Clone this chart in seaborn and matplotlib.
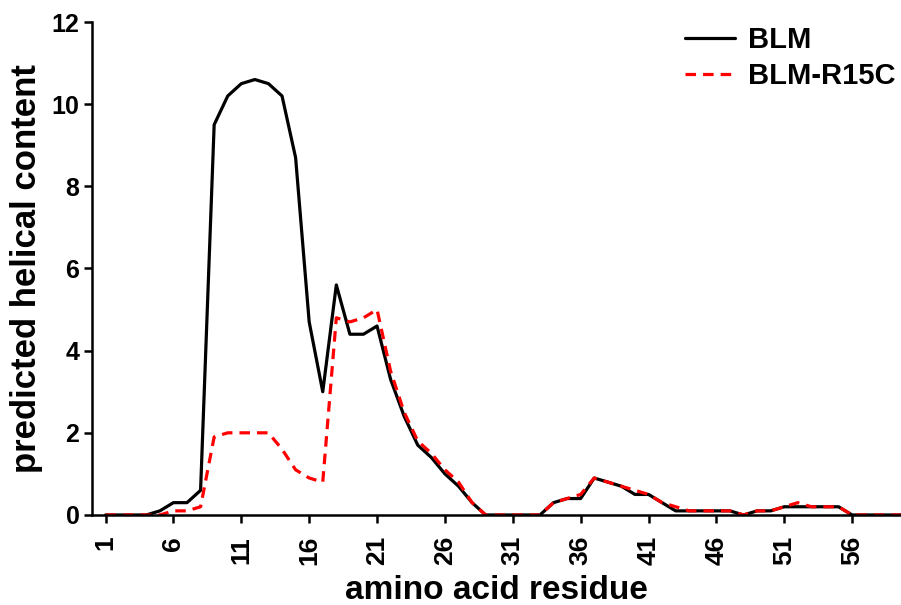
import numpy as np
import pandas as pd
import matplotlib
matplotlib.use("Agg")
import matplotlib.pyplot as plt
import seaborn as sns

# residue positions 1..60
residues = list(range(1, 61))

blm = [0, 0, 0, 0, 0.1, 0.3, 0.3, 0.6, 9.5, 10.2,
       10.5, 10.6, 10.5, 10.2, 8.7, 4.7, 3.0, 5.6, 4.4, 4.4,
       4.6, 3.3, 2.4, 1.7, 1.4, 1.0, 0.7, 0.3, 0, 0,
       0, 0, 0, 0.3, 0.4, 0.4, 0.9, 0.8, 0.7, 0.5,
       0.5, 0.3, 0.1, 0.1, 0.1, 0.1, 0.1, 0, 0.1, 0.1,
       0.2, 0.2, 0.2, 0.2, 0.2, 0, 0, 0, 0, 0]

blm_r15c = [0, 0, 0, 0, 0, 0.1, 0.1, 0.2, 1.9, 2.0,
            2.0, 2.0, 2.0, 1.6, 1.1, 0.9, 0.8, 4.8, 4.7, 4.8,
            5.0, 3.5, 2.5, 1.8, 1.5, 1.1, 0.8, 0.3, 0, 0,
            0, 0, 0, 0.3, 0.4, 0.5, 0.9, 0.8, 0.7, 0.6,
            0.5, 0.3, 0.2, 0.1, 0.1, 0.1, 0.1, 0, 0.1, 0.1,
            0.2, 0.3, 0.2, 0.2, 0.2, 0, 0, 0, 0, 0]

xticks = list(range(1, 57, 5))
yticks = [0, 2, 4, 6, 8, 10, 12]

sns.set_style("ticks")
plt.rcParams['font.family'] = ['Liberation Sans', 'DejaVu Sans']
plt.rcParams['font.weight'] = 'bold'
plt.rcParams['text.color'] = 'black'
plt.rcParams['axes.labelcolor'] = 'black'

fig = plt.figure(figsize=(9.01, 6.05), dpi=100)
ax = fig.add_axes([0.1021, 0.1488, 0.8979, 0.8148])

sns.lineplot(x=residues, y=blm, color='black', linewidth=2.3,
             label='BLM', ax=ax)
sns.lineplot(x=residues, y=blm_r15c, color='#ff0000', linewidth=2.3,
             linestyle=(0, (3.3, 2.2)), label='BLM-R15C', ax=ax)

ax.set_xlim(0, 59.6)
ax.set_ylim(0, 12)
ax.set_xticks(xticks)
ax.set_yticks(yticks)
ax.set_xticklabels([str(t) for t in xticks], rotation=90, fontsize=19,
                   fontweight='bold')
ax.set_yticklabels([str(t) for t in yticks], fontsize=18, fontweight='bold')
ax.tick_params(direction='out', length=6, width=1.8, colors='black')
ax.tick_params(axis='x', pad=9)
ax.tick_params(axis='y', pad=3)

for side in ['top', 'right']:
    ax.spines[side].set_visible(False)
for side in ['left', 'bottom']:
    ax.spines[side].set_linewidth(1.8)
    ax.spines[side].set_color('black')

ax.set_xlabel("amino acid residue", fontsize=24, fontweight='bold', labelpad=7)
ax.set_ylabel("predicted helical content", fontsize=25, fontweight='bold',
              labelpad=6)

leg = ax.legend(loc='upper right', frameon=False, fontsize=21,
                handlelength=1.7, borderaxespad=0.2, labelspacing=0.3,
                handletextpad=0.45, bbox_to_anchor=(1.015, 1.028))
for t in leg.get_texts():
    t.set_fontweight('bold')

fig.savefig("out.png", dpi=100)
